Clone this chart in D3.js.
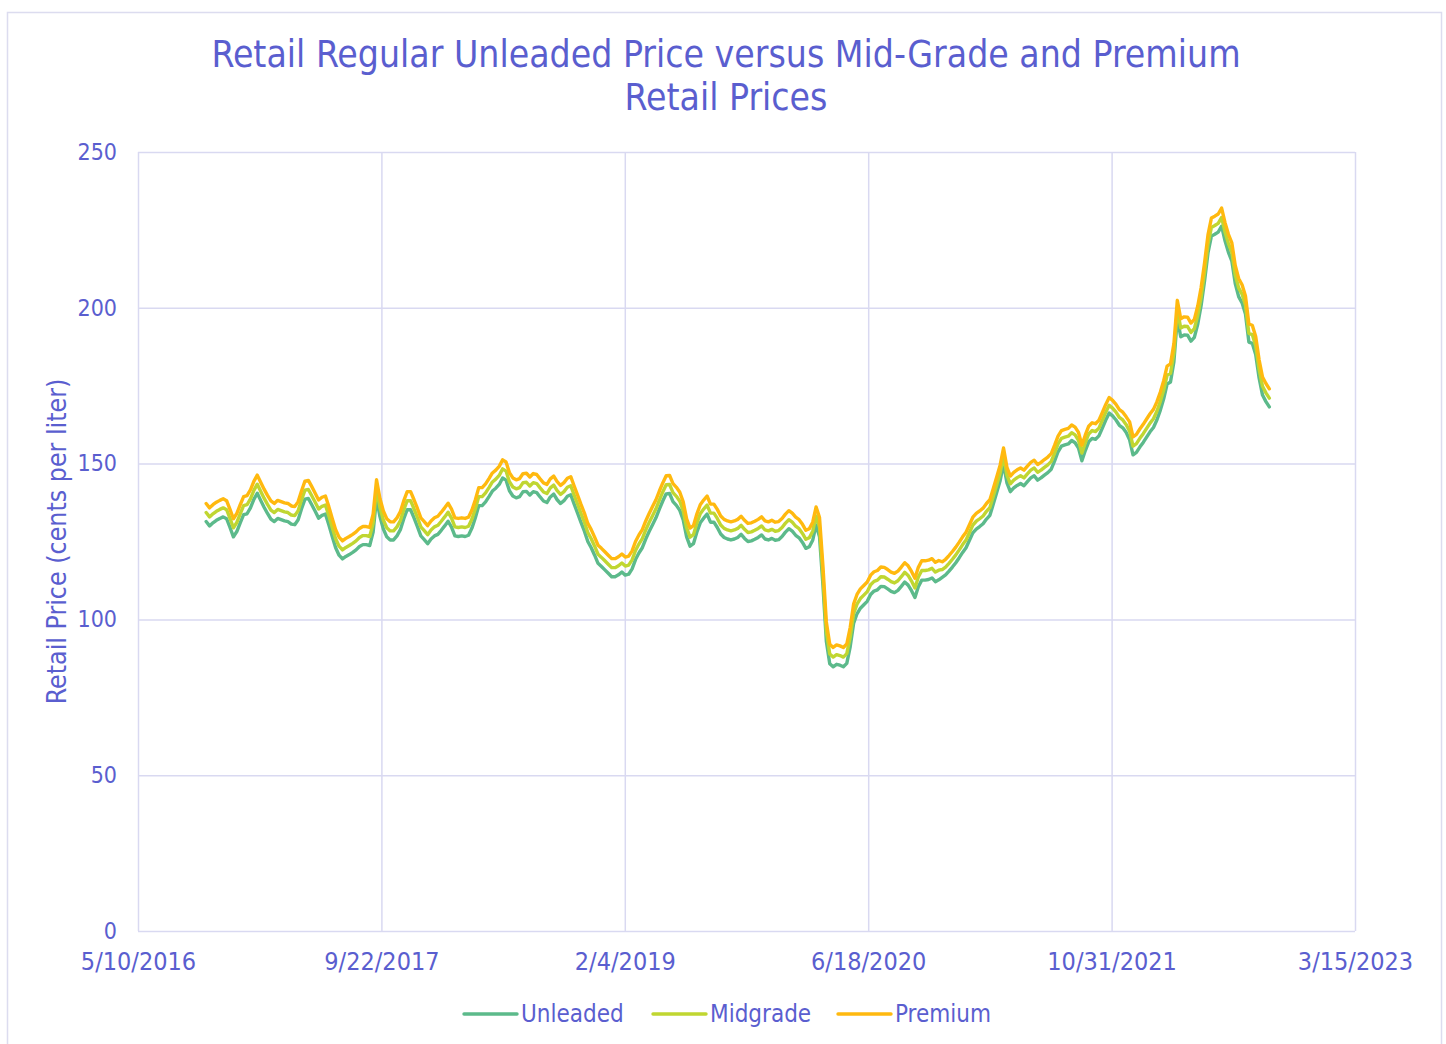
<!DOCTYPE html>
<html>
<head>
<meta charset="utf-8">
<script src="https://cdn.jsdelivr.net/npm/d3@7"></script>
<style>
  html, body { margin: 0; padding: 0; background: #ffffff; }
  svg { display: block; }
  text { font-family: "DejaVu Sans Condensed", "DejaVu Sans", sans-serif; font-stretch: condensed; fill: #5a5ecf; }
</style>
</head>
<body>
<svg id="chart" width="1446" height="1044"></svg>
<script>
// ---- DATA ----
const titleLines = ["Retail Regular Unleaded Price versus Mid-Grade and Premium", "Retail Prices"];
const yAxisTitle = "Retail Price (cents per liter)";
const seriesNames = ["Unleaded", "Midgrade", "Premium"];
const xTickLabels = ["5/10/2016", "9/22/2017", "2/4/2019", "6/18/2020", "10/31/2021", "3/15/2023"];
const yTickValues = [0, 50, 100, 150, 200, 250];
const firstWeek = "2016-09-27"; // weekly observations start

const unleaded = [
131.4,130.0,131.0,131.8,132.4,132.9,132.3,129.5,126.5,128.2,
131.0,133.6,133.9,135.8,138.5,140.5,138.2,136.0,134.0,132.2,
131.4,132.4,132.0,131.6,131.4,130.6,130.4,132.0,135.5,138.6,
138.8,136.8,134.7,132.5,133.4,133.8,130.4,126.6,123.0,120.6,
119.4,120.2,120.8,121.5,122.3,123.4,124.0,124.0,123.7,128.0,
139.0,133.0,129.0,126.5,125.5,125.5,126.8,128.8,132.3,135.2,
135.2,132.6,129.8,126.8,125.6,124.3,125.8,126.8,127.3,128.6,
130.0,131.5,129.6,126.8,126.6,126.8,126.6,127.0,129.3,132.6,
136.5,136.5,137.7,139.4,141.2,142.1,143.3,145.4,144.7,141.3,
139.6,139.0,139.4,141.0,141.1,139.9,141.0,140.7,139.3,138.0,
137.5,139.3,140.2,138.4,137.2,138.1,139.5,140.0,137.0,134.1,
131.1,128.3,125.0,123.0,120.6,118.0,117.0,115.9,114.8,113.7,
113.7,114.3,115.2,114.2,114.5,116.2,119.2,121.3,123.0,125.8,
128.2,130.4,132.6,135.4,138.0,140.3,140.4,137.8,136.6,135.0,
131.9,126.5,123.5,124.3,128.0,131.0,132.5,133.8,131.2,131.2,
129.5,127.4,126.3,125.8,125.5,125.8,126.3,127.3,126.0,125.0,
125.2,125.7,126.3,127.1,125.8,125.5,126.0,125.4,125.6,126.6,
128.0,129.1,128.3,127.0,126.2,124.7,122.8,123.3,125.4,130.3,
126.5,111.0,93.0,85.8,84.8,85.6,85.3,84.8,85.9,91.2,
98.7,101.8,103.6,104.7,105.8,108.0,109.1,109.5,110.6,110.5,
109.8,109.0,108.6,109.3,110.6,112.0,111.0,109.2,107.0,110.5,
112.6,112.6,112.8,113.3,112.1,112.7,113.5,114.3,115.5,116.8,
118.2,119.8,121.5,123.0,125.4,127.8,129.0,129.8,130.7,132.2,
133.4,137.0,140.7,144.5,150.0,143.8,141.0,142.2,143.0,143.6,
142.9,144.2,145.4,146.1,144.7,145.4,146.3,147.1,148.2,150.9,
153.8,155.6,156.0,156.3,157.4,156.7,155.0,150.9,154.2,157.0,
158.1,157.8,158.9,161.4,164.0,166.2,165.3,164.0,162.3,161.5,
160.0,157.6,152.8,153.6,155.3,156.8,158.5,160.2,161.6,164.0,
167.1,170.8,175.5,176.2,182.7,196.6,190.7,191.3,191.2,189.3,
190.5,194.8,200.8,208.7,217.6,223.0,223.6,224.3,226.2,221.5,
217.8,215.0,207.8,203.6,201.6,198.0,189.0,188.6,185.0,177.5,
172.0,169.9,168.2];

const midgrade = [
134.3,132.9,133.9,134.7,135.3,135.8,135.2,132.4,129.4,131.1,
133.9,136.5,136.8,138.7,141.4,143.4,141.1,138.9,136.9,135.1,
134.3,135.3,134.9,134.5,134.3,133.5,133.3,134.9,138.4,141.5,
141.7,139.7,137.6,135.4,136.3,136.7,133.3,129.5,125.9,123.5,
122.3,123.1,123.7,124.4,125.2,126.3,126.9,126.9,126.6,130.9,
141.9,135.9,131.9,129.4,128.4,128.4,129.7,131.7,135.2,138.1,
138.1,135.5,132.7,129.7,128.5,127.2,128.7,129.7,130.2,131.5,
132.9,134.4,132.5,129.7,129.5,129.7,129.5,129.9,132.2,135.5,
139.4,139.4,140.6,142.3,144.1,145.0,146.2,148.3,147.6,144.2,
142.5,141.9,142.3,143.9,144.0,142.8,143.9,143.6,142.2,140.9,
140.4,142.2,143.1,141.3,140.1,141.0,142.4,142.9,139.9,137.0,
134.0,131.2,127.9,125.9,123.5,120.9,119.9,118.8,117.7,116.6,
116.6,117.2,118.1,117.1,117.4,119.1,122.1,124.2,125.9,128.7,
131.1,133.3,135.5,138.3,140.9,143.2,143.3,140.7,139.5,137.9,
134.8,129.4,126.4,127.2,130.9,133.9,135.4,136.7,134.1,134.1,
132.4,130.3,129.2,128.7,128.4,128.7,129.2,130.2,128.9,127.9,
128.1,128.6,129.2,130.0,128.7,128.4,128.9,128.3,128.5,129.5,
130.9,132.0,131.2,129.9,129.1,127.6,125.7,126.2,128.3,133.2,
129.6,114.1,96.1,88.9,87.9,88.7,88.4,87.9,89.0,94.3,
101.8,104.9,106.7,107.8,108.9,111.1,112.2,112.6,113.7,113.6,
112.9,112.1,111.7,112.4,113.7,115.1,114.1,112.3,110.1,113.6,
115.7,115.7,115.9,116.4,115.2,115.8,116.0,116.8,118.0,119.3,
120.7,122.3,124.0,125.5,127.9,130.3,131.5,132.3,133.2,134.7,
135.9,139.5,143.2,147.0,152.5,146.3,143.5,144.7,145.5,146.1,
145.4,146.7,147.9,148.6,147.2,147.9,148.8,149.6,150.7,153.4,
156.3,158.1,158.5,158.8,159.9,159.2,157.5,153.4,156.7,159.5,
160.6,160.3,161.4,163.9,166.5,168.7,167.8,166.5,164.8,164.0,
162.5,160.4,155.6,156.4,158.1,159.6,161.3,163.0,164.4,166.8,
169.9,173.6,178.3,179.0,185.5,199.4,193.5,194.1,194.0,192.1,
193.3,197.6,203.6,211.5,220.4,225.8,226.4,227.1,229.0,224.3,
220.6,217.8,210.6,206.4,204.4,200.8,191.8,191.4,187.8,180.3,
174.8,172.7,171.0];

const premium = [
137.2,135.8,136.8,137.6,138.2,138.7,138.1,135.3,132.3,134.0,
136.8,139.4,139.7,141.6,144.3,146.3,144.0,141.8,139.8,138.0,
137.2,138.2,137.8,137.4,137.2,136.4,136.2,137.8,141.3,144.4,
144.6,142.6,140.5,138.3,139.2,139.6,136.2,132.4,128.8,126.4,
125.2,126.0,126.6,127.3,128.1,129.2,129.8,129.8,129.5,133.8,
144.8,138.8,134.8,132.3,131.3,131.3,132.6,134.6,138.1,141.0,
141.0,138.4,135.6,132.6,131.4,130.1,131.6,132.6,133.1,134.4,
135.8,137.3,135.4,132.6,132.4,132.6,132.4,132.8,135.1,138.4,
142.3,142.3,143.5,145.2,147.0,147.9,149.1,151.2,150.5,147.1,
145.4,144.8,145.2,146.8,146.9,145.7,146.8,146.5,145.1,143.8,
143.3,145.1,146.0,144.2,143.0,143.9,145.3,145.8,142.8,139.9,
136.9,134.1,130.8,128.8,126.4,123.8,122.8,121.7,120.6,119.5,
119.5,120.1,121.0,120.0,120.3,122.0,125.0,127.1,128.8,131.6,
134.0,136.2,138.4,141.2,143.8,146.1,146.2,143.6,142.4,140.8,
137.7,132.3,129.3,130.1,133.8,136.8,138.3,139.6,137.0,137.0,
135.3,133.2,132.1,131.6,131.3,131.6,132.1,133.1,131.8,130.8,
131.0,131.5,132.1,132.9,131.6,131.3,131.8,131.2,131.4,132.4,
133.8,134.9,134.1,132.8,132.0,130.5,128.6,129.1,131.2,136.1,
132.7,117.2,99.2,92.0,91.0,91.8,91.5,91.0,92.1,97.4,
104.9,108.0,109.8,110.9,112.0,114.2,115.3,115.7,116.8,116.7,
116.0,115.2,114.8,115.5,116.8,118.2,117.2,115.4,113.2,116.7,
118.8,118.8,119.0,119.5,118.3,118.9,118.5,119.3,120.5,121.8,
123.2,124.8,126.5,128.0,130.4,132.8,134.0,134.8,135.7,137.2,
138.4,142.0,145.7,149.5,155.0,148.8,146.0,147.2,148.0,148.6,
147.9,149.2,150.4,151.1,149.7,150.4,151.3,152.1,153.2,155.9,
158.8,160.6,161.0,161.3,162.4,161.7,160.0,155.9,159.2,162.0,
163.1,162.8,163.9,166.4,169.0,171.2,170.3,169.0,167.3,166.5,
165.0,163.4,158.6,159.4,161.1,162.6,164.3,166.0,167.4,169.8,
172.9,176.6,181.3,182.0,188.5,202.4,196.5,197.1,197.0,195.1,
196.3,200.6,206.6,214.5,223.4,228.8,229.4,230.1,232.0,227.3,
223.6,220.8,213.6,209.4,207.4,203.8,194.8,194.4,190.8,183.3,
177.8,175.7,174.0];

// ---- CHART ----
const colors = { Unleaded: "#5cba8b", Midgrade: "#c0d631", Premium: "#ffb90f" };
const textColor = "#5a5ecf";
const gridColor = "#d9d9f1";

const svg = d3.select("#chart");
const W = 1446, H = 1044;
const margin = { left: 138, right: W - 1355, top: 152, bottom: H - 931 };

// outer chart frame
svg.append("rect")
  .attr("x", 7.5).attr("y", 12.5)
  .attr("width", 1434).attr("height", 1050)
  .attr("fill", "#ffffff")
  .attr("stroke", "#dcdcef").attr("stroke-width", 1.5);

const parseMDY = d3.utcParse("%m/%d/%Y");
const tickDates = xTickLabels.map(parseMDY);
const x = d3.scaleUtc()
  .domain([tickDates[0], tickDates[tickDates.length - 1]])
  .range([margin.left, W - margin.right]);
const y = d3.scaleLinear()
  .domain([0, 250])
  .range([H - margin.bottom, margin.top]);

// gridlines
svg.append("g")
  .attr("transform", `translate(${margin.left},0)`)
  .call(d3.axisLeft(y).tickValues(yTickValues).tickSize(-(W - margin.left - margin.right)).tickFormat(""))
  .call(g => g.select(".domain").remove())
  .call(g => g.selectAll("line").attr("stroke", gridColor).attr("stroke-width", 1.5));
svg.append("g")
  .attr("transform", `translate(0,${H - margin.bottom})`)
  .call(d3.axisBottom(x).tickValues(tickDates).tickSize(-(H - margin.top - margin.bottom)).tickFormat(""))
  .call(g => g.select(".domain").remove())
  .call(g => g.selectAll("line").attr("stroke", gridColor).attr("stroke-width", 1.5));

// tick labels
const yAxisG = svg.append("g")
  .attr("transform", `translate(${margin.left},0)`)
  .call(d3.axisLeft(y).tickValues(yTickValues).tickSize(0).tickPadding(21).tickFormat(d3.format("d")));
yAxisG.select(".domain").remove();
yAxisG.selectAll("text").attr("font-size", 23).attr("fill", textColor)
  .attr("font-family", null).attr("dy", "0.32em");

const xAxisG = svg.append("g")
  .attr("transform", `translate(0,${H - margin.bottom})`)
  .call(d3.axisBottom(x).tickValues(tickDates).tickSize(0).tickPadding(21)
    .tickFormat((d, i) => xTickLabels[i]));
xAxisG.select(".domain").remove();
xAxisG.selectAll("text").attr("font-size", 25).attr("fill", textColor)
  .attr("font-family", null).attr("dy", "0.71em");

// title
svg.append("text")
  .attr("x", 726).attr("y", 67)
  .attr("text-anchor", "middle").attr("font-size", 37)
  .text(titleLines[0]);
svg.append("text")
  .attr("x", 726).attr("y", 110)
  .attr("text-anchor", "middle").attr("font-size", 37)
  .text(titleLines[1]);

// y axis title
svg.append("text")
  .attr("transform", `translate(66,${(margin.top + H - margin.bottom) / 2}) rotate(-90)`)
  .attr("text-anchor", "middle").attr("font-size", 26.5)
  .text(yAxisTitle);

// series
const startDate = d3.utcParse("%Y-%m-%d")(firstWeek);
const seriesData = [unleaded, midgrade, premium];
const line = d3.line()
  .x((d, i) => x(d3.utcWeek.offset(startDate, i)))
  .y(d => y(d));
seriesNames.forEach((name, k) => {
  svg.append("path")
    .datum(seriesData[k])
    .attr("fill", "none")
    .attr("stroke", colors[name])
    .attr("stroke-width", 3.4)
    .attr("stroke-linejoin", "round")
    .attr("stroke-linecap", "round")
    .attr("d", line);
});

// legend
const legendX = [464, 653, 838];
const legend = svg.append("g");
seriesNames.forEach((name, k) => {
  legend.append("line")
    .attr("x1", legendX[k]).attr("x2", legendX[k] + 53)
    .attr("y1", 1014).attr("y2", 1014)
    .attr("stroke", colors[name]).attr("stroke-width", 3.4)
    .attr("stroke-linecap", "round");
  legend.append("text")
    .attr("x", legendX[k] + 57).attr("y", 1022)
    .attr("font-size", 24)
    .text(name);
});
</script>
</body>
</html>
